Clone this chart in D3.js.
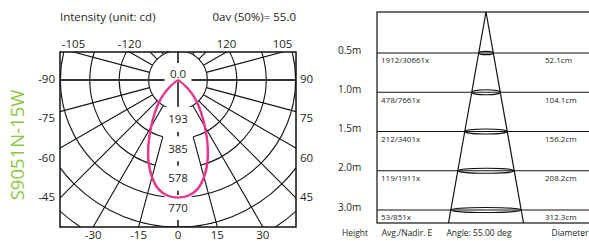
<!DOCTYPE html>
<html>
<head>
<meta charset="utf-8">
<script src="https://cdn.jsdelivr.net/npm/d3@7"></script>
<style>
  body { margin: 0; background: #fff; }
  text { font-family: "Open Sans", sans-serif; fill: #231f20; }
</style>
</head>
<body>
<svg width="589" height="241"></svg>
<script>
// ---- data ----
var modelName = "S9051N-15W";
var beamAngle = "55.0";
var angles = [0, 5, 10, 15, 20, 25, 30, 35, 40, 45, 50, 55, 60, 65, 70];
var cdPlaneC0 = [770, 762, 730, 662, 570, 462, 358, 272, 205, 145, 85, 30, 6, 0, 0];
var cdPlaneC90 = [770, 760, 724, 654, 560, 450, 345, 260, 190, 125, 62, 18, 3, 0, 0];
var ringLabels = ["0.0", "193", "385", "578", "770"];
var topTicks = [-105, -120, 120, 105];
var bottomTicks = [-30, -15, 0, 15, 30];
var leftTicks = [-90, -75, -60, -45];
var rightTicks = [90, 75, 60, 45];

var heights = ["0.5m", "1.0m", "1.5m", "2.0m", "3.0m"];
var illum = ["1912/30661x", "478/7661x", "212/3401x", "119/1911x", "53/851x"];
var diameters = ["52.1cm", "104.1cm", "156.2cm", "208.2cm", "312.3cm"];
var footer = ["Height", "Avg./Nadir. E", "Angle: 55.00 deg", "Diameter"];
var footerX = [355, 407, 479, 570];

var svg = d3.select("svg");
var rad = Math.PI / 180;

// ---- polar diagram ----
var cx = 178, cy = 80;
var box = {x0: 60, y0: 52, x1: 296, y1: 227};
var maxCd = 770;
var r = d3.scaleLinear().domain([0, maxCd]).range([0, 117.6]);
var step = maxCd / 4;

svg.append("clipPath").attr("id", "pclip")
  .append("rect").attr("x", box.x0).attr("y", box.y0)
  .attr("width", box.x1 - box.x0).attr("height", box.y1 - box.y0);

var grid = svg.append("g").attr("clip-path", "url(#pclip)")
  .attr("fill", "none").attr("stroke", "#111").attr("stroke-width", 1.1);

// rings (2nd and 3rd left open around the label column)
d3.range(1, 8).forEach(function(k) {
  var rr = r(k * step);
  var p = d3.path();
  if (k == 2 || k == 3) {
    var a0 = Math.PI / 2 + 15 * rad, a1 = Math.PI / 2 - 15 * rad + 2 * Math.PI;
    p.moveTo(cx + rr * Math.cos(a0), cy + rr * Math.sin(a0));
    p.arc(cx, cy, rr, a0, a1);
  } else {
    p.moveTo(cx + rr, cy);
    p.arc(cx, cy, rr, 0, 2 * Math.PI);
  }
  grid.append("path").attr("d", p.toString());
});

// radial lines every 15 deg
var spokes = [15, 30, 45, 60, 75, 105, 120, 135, 150, 165];
spokes.concat(spokes.map(function(a) { return -a; })).forEach(function(a) {
  var r0 = Math.abs(a) == 15 ? r(2 * step) : r(step);
  var t = a * rad;
  grid.append("line")
    .attr("x1", cx + r0 * Math.sin(t)).attr("y1", cy + r0 * Math.cos(t))
    .attr("x2", cx + 400 * Math.sin(t)).attr("y2", cy + 400 * Math.cos(t));
});

// main axes
grid.append("line").attr("x1", box.x0).attr("x2", box.x1).attr("y1", cy).attr("y2", cy)
  .attr("stroke", "#333").attr("stroke-width", 1.8);
grid.append("line").attr("x1", cx).attr("x2", cx).attr("y1", box.y0).attr("y2", box.y1)
  .attr("stroke", "#333").attr("stroke-width", 1.8);

// ring labels with white backing
ringLabels.forEach(function(lab, i) {
  var y = i == 0 ? cy - 6.5 : cy + r(i * step) + 10;
  var h = i == 0 ? 19 : 25;
  svg.append("rect").attr("x", cx - 13.5).attr("y", y - (i == 0 ? 10.5 : h / 2))
    .attr("width", 27).attr("height", h).attr("fill", "#fff");
  svg.append("text").attr("x", cx).attr("y", y).attr("dy", "0.35em")
    .attr("text-anchor", "middle").attr("font-size", 11.5).text(lab);
});

svg.append("rect").attr("x", box.x0).attr("y", box.y0)
  .attr("width", box.x1 - box.x0).attr("height", box.y1 - box.y0)
  .attr("fill", "none").attr("stroke", "#111").attr("stroke-width", 1.5);

// tick labels where the spokes meet the frame
var tl = svg.append("g").attr("font-size", 11.5);
topTicks.forEach(function(a) {
  tl.append("text").attr("x", cx + (box.y0 - cy) * Math.tan(a * rad))
    .attr("y", 44).attr("dy", "0.35em").attr("text-anchor", "middle").text(a);
});
bottomTicks.forEach(function(a) {
  tl.append("text").attr("x", cx + (box.y1 - cy) * Math.tan(a * rad))
    .attr("y", 235).attr("dy", "0.35em").attr("text-anchor", "middle").text(a);
});
var sideY = d3.scaleLinear().domain([90, 45]).range([79, 197]);
leftTicks.forEach(function(a) {
  tl.append("text").attr("x", 55).attr("y", sideY(-a)).attr("dy", "0.35em")
    .attr("text-anchor", "end").text(a);
});
rightTicks.forEach(function(a) {
  tl.append("text").attr("x", 300).attr("y", sideY(a)).attr("dy", "0.35em").text(a);
});

// intensity curves, mirrored for both halves
var curve = d3.lineRadial()
  .angle(function(d) { return Math.PI - d[0] * rad; })
  .radius(function(d) { return r(d[1]); })
  .curve(d3.curveCatmullRom);
var gc = svg.append("g").attr("transform", "translate(" + cx + "," + cy + ")");
[cdPlaneC0, cdPlaneC90].forEach(function(vals) {
  var pts = [];
  for (var i = angles.length - 1; i > 0; i--) pts.push([-angles[i], vals[i]]);
  for (var j = 0; j < angles.length; j++) pts.push([angles[j], vals[j]]);
  gc.append("path").attr("d", curve(pts)).attr("fill", "none")
    .attr("stroke", "#e8358c").attr("stroke-width", 1.8);
});

// titles
svg.append("text").attr("x", 60).attr("y", 21).attr("font-size", 11.5).text("Intensity (unit: cd)");
svg.append("text").attr("x", 296).attr("y", 21).attr("font-size", 11.5)
  .attr("text-anchor", "end").text("0av (50%)= " + beamAngle);
svg.append("text").attr("transform", "translate(18,145) rotate(-90)")
  .attr("dy", "0.35em").attr("text-anchor", "middle").attr("font-size", 18.5)
  .style("fill", "#8cc63f").text(modelName);

// ---- illuminance table ----
var tx0 = 377, tx1 = 592, tTop = 12, tBot = 223;
var rowY = d3.scaleLinear().domain([0, heights.length - 1]).range([53, 210]);
var coneX = 486;
var halfW = d3.scaleLinear().domain([tTop, tBot]).range([0, 37.5]);

var tg = svg.append("g").attr("stroke", "#111").attr("stroke-width", 1.2).attr("fill", "none");
tg.append("rect").attr("x", tx0).attr("y", tTop).attr("width", tx1 - tx0).attr("height", tBot - tTop);
heights.forEach(function(h, i) {
  tg.append("line").attr("x1", tx0).attr("x2", tx1).attr("y1", rowY(i)).attr("y2", rowY(i));
});
tg.append("line").attr("x1", coneX).attr("y1", tTop).attr("x2", coneX - halfW(tBot)).attr("y2", tBot);
tg.append("line").attr("x1", coneX).attr("y1", tTop).attr("x2", coneX + halfW(tBot)).attr("y2", tBot);
heights.forEach(function(h, i) {
  var rx = halfW(rowY(i));
  tg.append("ellipse").attr("cx", coneX).attr("cy", rowY(i))
    .attr("rx", rx).attr("ry", Math.min(2.5, rx * 0.23));
});

heights.forEach(function(h, i) {
  svg.append("text").attr("x", 338).attr("y", rowY(i) - 3).attr("dy", "0.35em")
    .attr("font-size", 10).text(h);
  svg.append("text").attr("x", 381).attr("y", rowY(i) + 7.5).attr("dy", "0.35em")
    .attr("font-size", 8).text(illum[i]);
  svg.append("text").attr("x", 545).attr("y", rowY(i) + 7.5).attr("dy", "0.35em")
    .attr("font-size", 8).text(diameters[i]);
});
footer.forEach(function(f, i) {
  svg.append("text").attr("x", footerX[i]).attr("y", 233).attr("dy", "0.35em")
    .attr("text-anchor", "middle").attr("font-size", 8.5).text(f);
});
</script>
</body>
</html>
